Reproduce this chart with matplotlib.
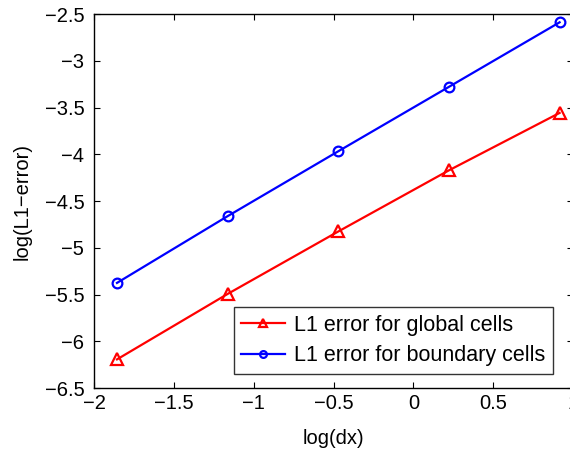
import matplotlib
matplotlib.use("Agg")
import matplotlib.pyplot as plt

plt.rcParams['font.family'] = ['Liberation Sans', 'DejaVu Sans']

log_dx = [-1.856, -1.163, -0.470, 0.223, 0.916]
err_global = [-6.194, -5.494, -4.826, -4.172, -3.558]
err_boundary = [-5.376, -4.662, -3.968, -3.279, -2.589]

xticks = [-2, -1.5, -1, -0.5, 0, 0.5, 1]
xticklabels = ['\u22122', '\u22121.5', '\u22121', '\u22120.5', '0', '0.5', '1']
yticks = [-6.5, -6, -5.5, -5, -4.5, -4, -3.5, -3, -2.5]
yticklabels = ['\u22126.5', '\u22126', '\u22125.5', '\u22125', '\u22124.5', '\u22124', '\u22123.5', '\u22123', '\u22122.5']

FS = 14.5
LFS = 15.5

fig = plt.figure(figsize=(5.70, 4.51), dpi=100)
W, H = 570, 451
x0, x1, y0, y1 = 94, 573, 14, 388
ax = fig.add_axes([x0 / W, 1 - y1 / H, (x1 - x0) / W, (y1 - y0) / H])

ax.plot(log_dx, err_global, color='#ff0000', lw=1.6, marker='^', ms=8,
        mfc='none', mec='#ff0000', mew=1.6, label='L1 error for global cells')
ax.plot(log_dx, err_boundary, color='#0000ff', lw=1.6, marker='o', ms=7,
        mfc='none', mec='#0000ff', mew=1.6, label='L1 error for boundary cells')

ax.set_xlim(-2, 1)
ax.set_ylim(-6.5, -2.5)
ax.set_xticks(xticks)
ax.set_xticklabels(xticklabels)
ax.set_yticks(yticks)
ax.set_yticklabels(yticklabels)
ax.tick_params(direction='in', top=True, right=True, labelsize=FS, length=4, width=0.8)
ax.tick_params(axis='y', pad=7)
ax.tick_params(axis='x', pad=4)
for s in ax.spines.values():
    s.set_linewidth(1.0)

ax.set_xlabel('log(dx)', fontsize=FS, labelpad=12)
ax.set_ylabel('log(L1\u2212error)', fontsize=FS, labelpad=9)

leg = ax.legend(loc='lower right',
                bbox_to_anchor=((553 - x0) / (x1 - x0), (y1 - 374) / (y1 - y0)),
                fontsize=LFS, frameon=True, fancybox=False, edgecolor='black',
                borderaxespad=0, handlelength=2.05, handletextpad=0.42,
                labelspacing=0.45, borderpad=0.35, markerscale=0.7)
leg.get_frame().set_linewidth(1.0)

fig.savefig('out.png', dpi=100)
